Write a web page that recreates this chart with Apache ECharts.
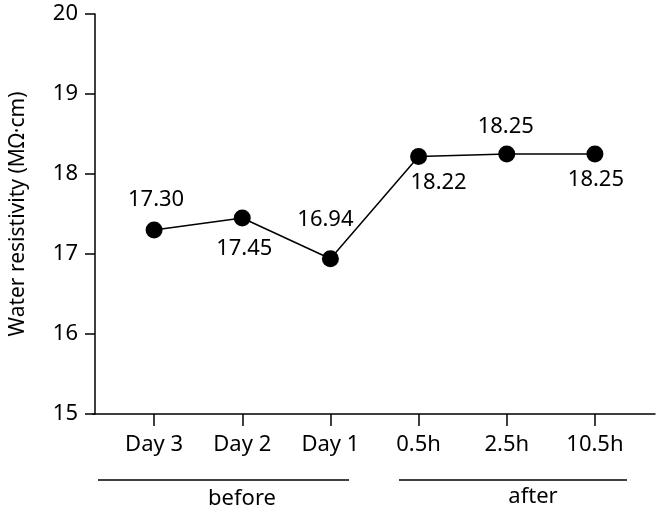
<!DOCTYPE html>
<html><head><meta charset="utf-8">
<script src="https://cdn.jsdelivr.net/npm/echarts@6/dist/echarts.min.js"></script>
<style>html,body{margin:0;padding:0;background:#fff}#c{width:656px;height:514px}</style>
</head><body><div id="c"></div>
<script>
var categories = ['Day 3', 'Day 2', 'Day 1', '0.5h', '2.5h', '10.5h'];
var values = [17.30, 17.45, 16.94, 18.22, 18.25, 18.25];
var valueLabels = ['17.30', '17.45', '16.94', '18.22', '18.25', '18.25'];
var groups = ['before', 'after'];

var labelOffsets = [[2, -30], [2, 31], [-5, -39], [20, 26], [-1, -27], [1, 26]];
var FONT = 'Noto Sans';
var chart = echarts.init(document.getElementById('c'));
chart.setOption({
  animation: false,
  textStyle: {fontFamily: FONT, color: '#000'},
  grid: [
    {left: 108, right: 17, top: 14, bottom: 100},
    {left: 93, right: 1, top: 14, bottom: 100}
  ],
  xAxis: [
    {type: 'category', gridIndex: 0, data: categories, boundaryGap: true,
     axisLine: {show: false},
     axisTick: {show: true, alignWithLabel: true, length: 12, lineStyle: {color: '#000', width: 1.5}},
     axisLabel: {color: '#000', fontSize: 22, margin: 20, fontFamily: FONT}},
    {type: 'value', gridIndex: 1, min: 0, max: 1,
     axisLine: {show: true, lineStyle: {color: '#000', width: 1.5}},
     axisTick: {show: false}, axisLabel: {show: false}, splitLine: {show: false}}
  ],
  yAxis: [
    {type: 'value', gridIndex: 0, min: 15, max: 20, interval: 1, offset: 15,
     name: 'Water resistivity (MΩ·cm)', nameLocation: 'middle', nameGap: 66,
     nameTextStyle: {fontSize: 21, color: '#000', fontFamily: FONT},
     axisLine: {show: true, lineStyle: {color: '#000', width: 1.5}},
     axisTick: {show: true, length: 10, lineStyle: {color: '#000', width: 1.5}},
     axisLabel: {color: '#000', fontSize: 22, margin: 17, fontFamily: FONT},
     splitLine: {show: false}},
    {type: 'value', gridIndex: 1, show: false, min: 0, max: 1}
  ],
  series: [{
    type: 'line', xAxisIndex: 0, yAxisIndex: 0,
    data: values.map(function (v, i) {
      return {value: v, label: {offset: labelOffsets[i], formatter: valueLabels[i]}};
    }),
    symbol: 'circle', symbolSize: 17,
    itemStyle: {color: '#000'},
    lineStyle: {color: '#000', width: 1.5},
    label: {show: true, position: 'inside', color: '#000', fontSize: 22, fontFamily: FONT}
  }],
  graphic: [
    {type: 'line', shape: {x1: 98, y1: 480, x2: 349, y2: 480}, style: {stroke: '#000', lineWidth: 1.5}},
    {type: 'line', shape: {x1: 399, y1: 480, x2: 627, y2: 480}, style: {stroke: '#000', lineWidth: 1.5}},
    {type: 'text', x: 242, y: 499, style: {text: groups[0], fontSize: 22, fontFamily: FONT, fill: '#000', textAlign: 'center', textVerticalAlign: 'middle'}},
    {type: 'text', x: 533, y: 497, style: {text: groups[1], fontSize: 22, fontFamily: FONT, fill: '#000', textAlign: 'center', textVerticalAlign: 'middle'}}
  ]
});
</script></body></html>
